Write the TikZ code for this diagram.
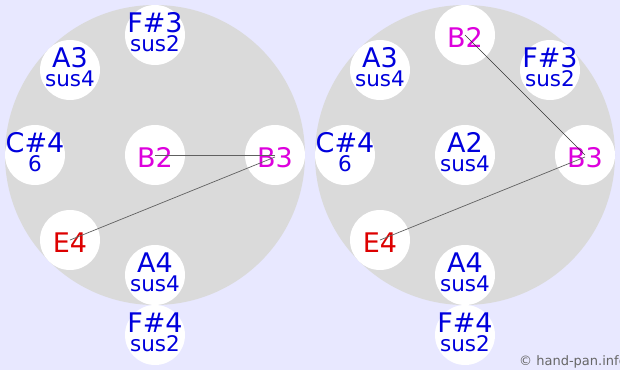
\documentclass[tikz,border=0pt]{standalone}
\usepackage{fontspec}
\setmainfont{DejaVu Sans}
\definecolor{bg}{HTML}{E8E8FF}
\definecolor{drum}{HTML}{DADADA}
\definecolor{nblue}{HTML}{0000DD}
\definecolor{nmag}{HTML}{DD00DD}
\definecolor{nred}{HTML}{DD0000}
\definecolor{lgray}{HTML}{606060}
\tikzset{
  pad/.style={circle, fill=white, minimum size=60pt, inner sep=0pt},
  nm/.style={anchor=base, inner sep=0pt, font=\fontsize{27}{27}\selectfont},
  sb/.style={anchor=base, inner sep=0pt, font=\fontsize{21.5}{21.5}\selectfont},
  link/.style={draw=lgray, line width=0.7pt},
}
\newcommand\twonote[5]{%
  \node[pad] (#1) at (#2,#3) {};
  \node[nm,text=nblue] (#1m) at (#2,#3-3) {#4};
  \node[sb,text=nblue] (#1s) at (#2,#3+16.5) {#5};}
\newcommand\onenote[5]{%
  \node[pad] (#1) at (#2,#3) {};
  \node[nm,text=#5] (#1m) at (#2,#3+12) {#4};}
\begin{document}
\begin{tikzpicture}[x=1pt,y=-1pt]
\fill[bg] (0,0) rectangle (620,370);
\useasboundingbox (0,0) rectangle (620,370);
\fill[drum] (155,155) circle[radius=150];
\fill[drum] (465,155) circle[radius=150];
% left
\twonote{lfs3}{155}{35}{F\#3}{sus2}
\twonote{la3}{70}{70}{A3}{sus4}
\twonote{lcs4}{35}{155}{C\#4}{6}
\onenote{lb2}{155}{155}{B2}{nmag}
\onenote{lb3}{275}{155}{B3}{nmag}
\onenote{le4}{70}{240}{E4}{nred}
\twonote{la4}{155}{275}{A4}{sus4}
\twonote{lfs4}{155}{335}{F\#4}{sus2}
% right
\onenote{rb2}{465}{35}{B2}{nmag}
\twonote{rfs3}{550}{70}{F\#3}{sus2}
\twonote{ra3}{380}{70}{A3}{sus4}
\twonote{rcs4}{345}{155}{C\#4}{6}
\twonote{ra2}{465}{155}{A2}{sus4}
\onenote{rb3}{585}{155}{B3}{nmag}
\onenote{re4}{380}{240}{E4}{nred}
\twonote{ra4}{465}{275}{A4}{sus4}
\twonote{rfs4}{465}{335}{F\#4}{sus2}
% links
\draw[link] (lb2.center) -- (lb3.center);
\draw[link] ([yshift=-2pt]lb3.center) -- (le4.center);
\draw[draw=black!80, line width=0.5pt] (rb2.center) -- (rb3.center);
\draw[link] ([yshift=-2pt]rb3.center) -- (re4.center);
\node[anchor=base west, inner sep=0pt, text=black!60, font=\fontsize{13}{13}\selectfont] (copy) at (519,365) {© hand-pan.info};
\end{tikzpicture}
\end{document}
